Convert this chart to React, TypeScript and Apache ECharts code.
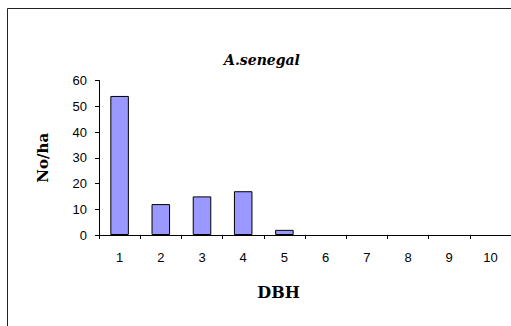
import React, { useEffect, useRef } from "react";
import * as echarts from "echarts";

const categories = ["1", "2", "3", "4", "5", "6", "7", "8", "9", "10"];
const noPerHa = [54, 12, 15, 17, 2, 0, 0, 0, 0, 0];
const titleText = "A.senegal";
const xName = "DBH";
const yName = "No/ha";

export default function App() {
  const ref = useRef<HTMLDivElement>(null);
  useEffect(() => {
    if (!ref.current) return;
    const chart = echarts.init(ref.current, undefined, { renderer: "svg" });
    chart.setOption({
      animation: false,
      backgroundColor: "#ffffff",
      title: {
        text: titleText,
        left: 257,
        top: 48,
        textAlign: "center",
        textStyle: {
          fontFamily: "DejaVu Serif",
          fontStyle: "italic",
          fontWeight: "bold",
          fontSize: 14,
          color: "#000",
        },
      },
      graphic: [
        {
          type: "rect",
          shape: { x: 7.5, y: 8.5, width: 600, height: 400 },
          style: { fill: "none", stroke: "#222", lineWidth: 1 },
          silent: true,
          z: 100,
        },
      ],
      grid: { left: 99, top: 80.5, width: 417, height: 154.5, containLabel: false },
      xAxis: {
        type: "category",
        data: categories,
        name: xName,
        nameLocation: "middle",
        nameGap: 49,
        nameTextStyle: {
          fontFamily: "DejaVu Serif",
          fontWeight: "bold",
          fontSize: 16,
          color: "#000",
          padding: [0, 53, 0, 0],
        },
        axisLine: { show: true, lineStyle: { color: "#000", width: 1 } },
        axisTick: { show: true, length: 4, lineStyle: { color: "#000" } },
        axisLabel: {
          margin: 16,
          fontFamily: "Liberation Sans",
          fontSize: 13,
          color: "#000",
        },
        splitLine: { show: false },
      },
      yAxis: {
        type: "value",
        min: 0,
        max: 60,
        interval: 10,
        name: yName,
        nameLocation: "middle",
        nameGap: 49,
        nameRotate: 90,
        nameTextStyle: {
          fontFamily: "DejaVu Serif",
          fontWeight: "bold",
          fontSize: 15,
          color: "#000",
        },
        axisLine: { show: true, lineStyle: { color: "#000", width: 1 } },
        axisTick: { show: true, length: 4, lineStyle: { color: "#000" } },
        axisLabel: {
          margin: 12,
          fontFamily: "Liberation Sans",
          fontSize: 13,
          color: "#000",
        },
        splitLine: { show: false },
      },
      series: [
        {
          type: "bar",
          data: noPerHa.map((v) => (v === 0 ? "-" : v)),
          barWidth: "45%",
          itemStyle: { color: "#9999ff", borderColor: "#000", borderWidth: 1 },
        },
      ],
    });
    return () => chart.dispose();
  }, []);
  return (
    <div
      ref={ref}
      style={{ position: "fixed", left: 0, top: 0, width: 511, height: 326 }}
    />
  );
}
